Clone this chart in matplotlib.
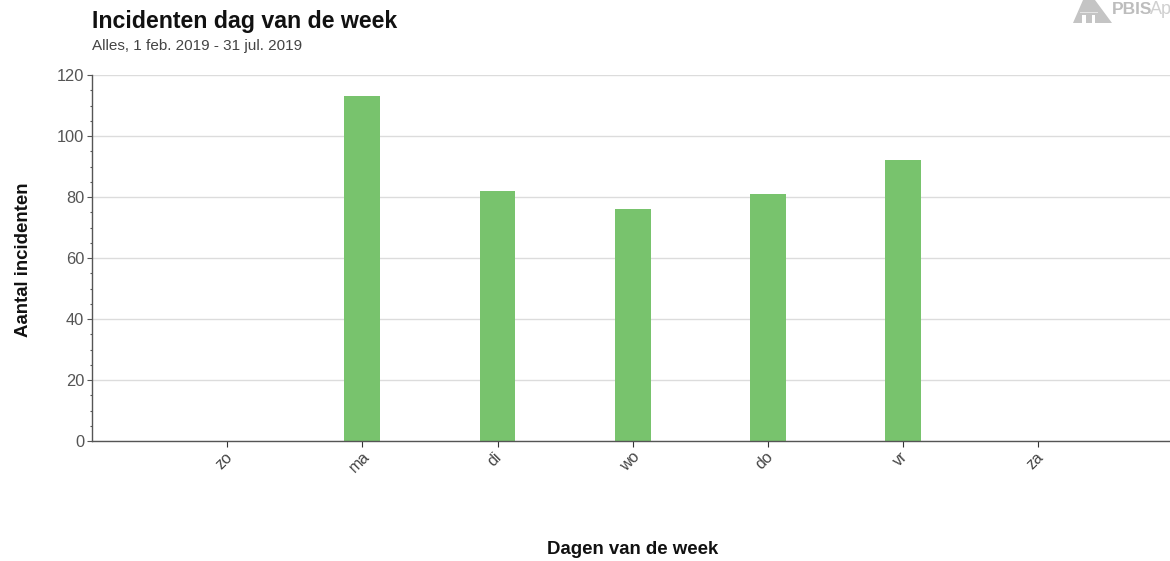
import matplotlib
matplotlib.use("Agg")
import matplotlib.pyplot as plt
from matplotlib.patches import Polygon
from matplotlib.transforms import ScaledTranslation

DAYS = ["zo", "ma", "di", "wo", "do", "vr", "za"]
INCIDENTS = [0, 113, 82, 76, 81, 92, 0]
Y_TICKS = [0, 20, 40, 60, 80, 100, 120]
Y_MINOR = [v for v in range(0, 120, 5) if v % 20]

W, H = 1170, 561

plt.rcParams["font.family"] = ["Liberation Sans", "DejaVu Sans"]

fig = plt.figure(figsize=(W / 100, H / 100), dpi=100)
# axes box in pixels: x 92..1170, y 75..441
ax = fig.add_axes([92 / W, 1 - 441 / H, (1170 - 92) / W, (441 - 75) / H])

x = range(len(DAYS))
ax.bar(x, INCIDENTS, 0.266, color="#78c36d", zorder=2)

ax.set_xlim(-1.0, 6.975)
ax.set_ylim(0, 120)
ax.set_xticks(list(x), DAYS, rotation=45, ha="center", fontsize=11.5,
              color="#444444")
ax.set_yticks(Y_TICKS)
ax.set_yticks(Y_MINOR, minor=True)
ax.grid(axis="y", color="#dcdcdc", lw=1.0, zorder=0)
ax.set_axisbelow(True)

for sp in ("top", "right"):
    ax.spines[sp].set_visible(False)
for sp in ("left", "bottom"):
    ax.spines[sp].set_color("#555555")
    ax.spines[sp].set_linewidth(1.0)

ax.tick_params(axis="y", which="major", length=3.6, width=0.8, color="#555555",
               labelsize=11.8, labelcolor="#555555", pad=2)
ax.tick_params(axis="y", which="minor", length=1.8, width=0.8, color="#555555")
ax.tick_params(axis="x", length=4, width=0.8, color="#333333", pad=2)

# rotated day labels sit a little left of their ticks
shift = ScaledTranslation(-3 / 100, 0, fig.dpi_scale_trans)
for lab in ax.get_xticklabels():
    lab.set_transform(lab.get_transform() + shift)

fig.text(92 / W, 1 - 28 / H, "Incidenten dag van de week", fontsize=16.7,
         fontweight="bold", color="#111111", va="baseline")
fig.text(92 / W, 1 - 50 / H, "Alles, 1 feb. 2019 - 31 jul. 2019", fontsize=11,
         color="#444444", va="baseline")
fig.text(24 / W, 1 - 260 / H, "Aantal incidenten", rotation=90, fontsize=13.4,
         fontweight="bold", color="#111111", ha="center", va="center")
fig.text(633 / W, 1 - 549 / H, "Dagen van de week", fontsize=13.4,
         fontweight="bold", color="#111111", ha="center", va="center")

# watermark logo, top right, cut off by the image edge
for pts, col in (([(1073, 23), (1083, 0), (1095, 0), (1112, 23)], "#c4c4c4"),
                 ([(1082, 23), (1082, 15), (1086, 15), (1086, 23)], "white"),
                 ([(1092, 23), (1092, 15), (1095, 15), (1095, 23)], "white"),
                 ([(1080, 12), (1098, 12), (1098, 13), (1080, 13)], "#e4e4e4")):
    fig.add_artist(Polygon([(px / W, 1 - py / H) for px, py in pts], closed=True,
                           transform=fig.transFigure, facecolor=col, edgecolor="none"))
fig.text(1112 / W, 1 - 14 / H, "PBIS", fontsize=12.5, fontweight="bold",
         color="#bdbdbd", va="baseline")
fig.text(1150 / W, 1 - 14 / H, "Ap", fontsize=13, color="#d0d0d0", va="baseline")

fig.savefig("out.png", dpi=100)
